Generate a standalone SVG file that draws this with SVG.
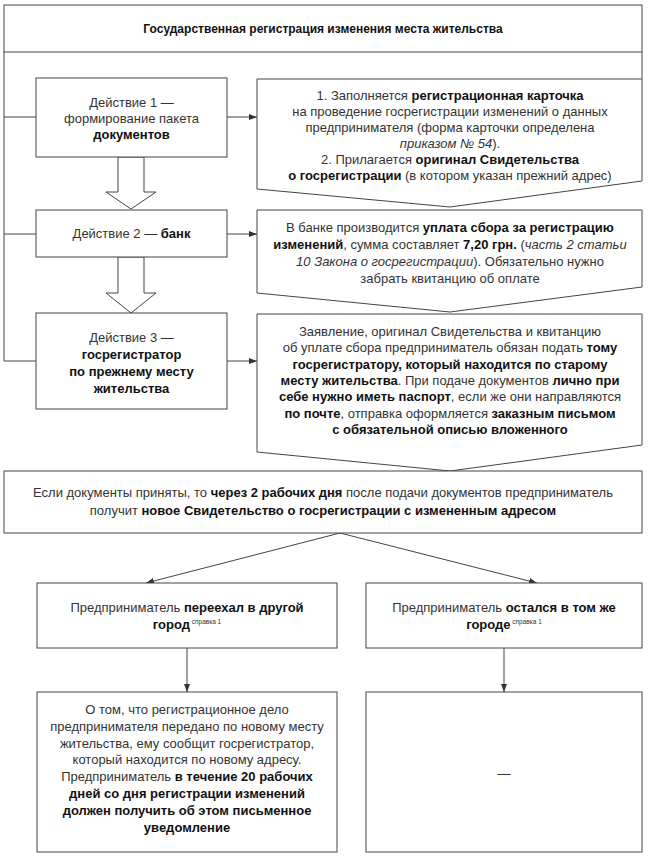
<svg xmlns="http://www.w3.org/2000/svg" width="650" height="861" viewBox="0 0 650 861">
<style>
.box{fill:#fff;stroke:#444;stroke-width:1}
.ln{fill:none;stroke:#444;stroke-width:1}
text{font-family:"Liberation Sans",Arial,sans-serif;font-size:13px;fill:#333;text-anchor:middle}
.t{font-size:12px;font-weight:bold;fill:#111}
.b{font-weight:bold;fill:#111}
.i{font-style:italic}
.s{font-size:6.5px}
</style>
<defs>
<marker id="ah" viewBox="0 0 8 6" refX="8" refY="3" markerWidth="8" markerHeight="6" markerUnits="userSpaceOnUse" orient="auto">
<path d="M0,0 L8,3 L0,6 z" fill="#333"/>
</marker>
</defs>
<rect x="0" y="0" width="650" height="861" fill="#fff"/>

<g id="connectors">
<line class="ln" x1="4" y1="52" x2="4" y2="361"/>
<line class="ln" x1="642" y1="52" x2="642" y2="79"/>
<line class="ln" x1="4" y1="117" x2="36" y2="117"/>
<line class="ln" x1="4" y1="234" x2="36" y2="234"/>
<line class="ln" x1="4" y1="361" x2="36" y2="361"/>
<line class="ln" x1="227" y1="117" x2="257" y2="117" marker-end="url(#ah)"/>
<line class="ln" x1="227" y1="234" x2="257" y2="234" marker-end="url(#ah)"/>
<line class="ln" x1="227" y1="361" x2="257" y2="361" marker-end="url(#ah)"/>
<polygon class="box" points="118,157 144,157 144,192 156,192 131,209 106,192 118,192"/>
<polygon class="box" points="118,257 144,257 144,293 156,293 131,313 106,293 118,293"/>
<line class="ln" x1="340" y1="533" x2="146" y2="583" marker-end="url(#ah)"/>
<line class="ln" x1="340" y1="533" x2="537" y2="583" marker-end="url(#ah)"/>
<line class="ln" x1="187" y1="648" x2="187" y2="692" marker-end="url(#ah)"/>
<line class="ln" x1="504" y1="648" x2="504" y2="692" marker-end="url(#ah)"/>
</g>

<g id="title">
<rect class="box" x="4" y="5" width="638" height="47"/>
<text class="t" x="323" y="33">Государственная регистрация изменения места жительства</text>
</g>

<g id="action1">
<rect class="box" x="36" y="78" width="191" height="79"/>
<text x="131.5" y="107">Действие 1 —</text>
<text x="131.5" y="123">формирование пакета</text>
<text x="131.5" y="139" class="b">документов</text>
</g>

<g id="action2">
<rect class="box" x="36" y="210" width="191" height="47"/>
<text x="131.5" y="238">Действие 2 — <tspan class="b">банк</tspan></text>
</g>

<g id="action3">
<rect class="box" x="36" y="313" width="191" height="96"/>
<text x="131.5" y="342">Действие 3 —</text>
<text x="131.5" y="359" class="b">госрегистратор</text>
<text x="131.5" y="376" class="b">по прежнему месту</text>
<text x="131.5" y="393" class="b">жительства</text>
</g>

<g id="info1">
<polygon class="box" points="257,79 642,79 642,181 450,207 257,189"/>
<text x="450" y="100">1. Заполняется <tspan class="b">регистрационная карточка</tspan></text>
<text x="450" y="116">на проведение госрегистрации изменений о данных</text>
<text x="450" y="132">предпринимателя (форма карточки определена</text>
<text x="450" y="148"><tspan class="i">приказом № 54</tspan>).</text>
<text x="450" y="164">2. Прилагается <tspan class="b">оригинал Свидетельства</tspan></text>
<text x="450" y="180"><tspan class="b">о госрегистрации</tspan> (в котором указан прежний адрес)</text>
</g>

<g id="info2">
<polygon class="box" points="257,210 642,210 642,287 450,312 257,293"/>
<text x="450" y="232">В банке производится <tspan class="b">уплата сбора за регистрацию</tspan></text>
<text x="450" y="249"><tspan class="b">изменений</tspan>, сумма составляет <tspan class="b">7,20 грн.</tspan> (<tspan class="i">часть 2 статьи</tspan></text>
<text x="450" y="266"><tspan class="i">10 Закона о госрегистрации</tspan>). Обязательно нужно</text>
<text x="450" y="283">забрать квитанцию об оплате</text>
</g>

<g id="info3">
<polygon class="box" points="257,314 642,314 642,445 450,471 257,452"/>
<text x="450" y="336">Заявление, оригинал Свидетельства и квитанцию</text>
<text x="450" y="352">об уплате сбора предприниматель обязан подать <tspan class="b">тому</tspan></text>
<text x="450" y="369" class="b">госрегистратору, который находится по старому</text>
<text x="450" y="385"><tspan class="b">месту жительства</tspan>. При подаче документов <tspan class="b">лично при</tspan></text>
<text x="450" y="401"><tspan class="b">себе нужно иметь паспорт</tspan>, если же они направляются</text>
<text x="450" y="418"><tspan class="b">по почте</tspan>, отправка оформляется <tspan class="b">заказным письмом</tspan></text>
<text x="450" y="434" class="b">с обязательной описью вложенного</text>
</g>

<g id="result">
<rect class="box" x="4" y="471" width="638" height="62"/>
<text x="323" y="497">Если документы приняты, то <tspan class="b">через 2 рабочих дня</tspan> после подачи документов предприниматель</text>
<text x="323" y="515">получит <tspan class="b">новое Свидетельство о госрегистрации с измененным адресом</tspan></text>
</g>

<g id="moved">
<rect class="box" x="37" y="583" width="300" height="65"/>
<text x="187" y="612">Предприниматель <tspan class="b">переехал в другой</tspan></text>
<text x="187" y="629"><tspan class="b">город</tspan><tspan class="s" dy="-5"> справка 1</tspan></text>
</g>

<g id="stayed">
<rect class="box" x="366" y="583" width="276" height="65"/>
<text x="504" y="612">Предприниматель <tspan class="b">остался в том же</tspan></text>
<text x="504" y="629"><tspan class="b">городе</tspan><tspan class="s" dy="-5"> справка 1</tspan></text>
</g>

<g id="moved-result">
<rect class="box" x="37" y="692" width="300" height="160"/>
<text x="187" y="714">О том, что регистрационное дело</text>
<text x="187" y="731">предпринимателя передано по новому месту</text>
<text x="187" y="748">жительства, ему сообщит госрегистратор,</text>
<text x="187" y="764">который находится по новому адресу.</text>
<text x="187" y="781">Предприниматель <tspan class="b">в течение 20 рабочих</tspan></text>
<text x="187" y="798" class="b">дней со дня регистрации изменений</text>
<text x="187" y="815" class="b">должен получить об этом письменное</text>
<text x="187" y="832" class="b">уведомление</text>
</g>

<g id="stayed-result">
<rect class="box" x="366" y="692" width="276" height="160"/>
<text x="504" y="778">—</text>
</g>
</svg>
